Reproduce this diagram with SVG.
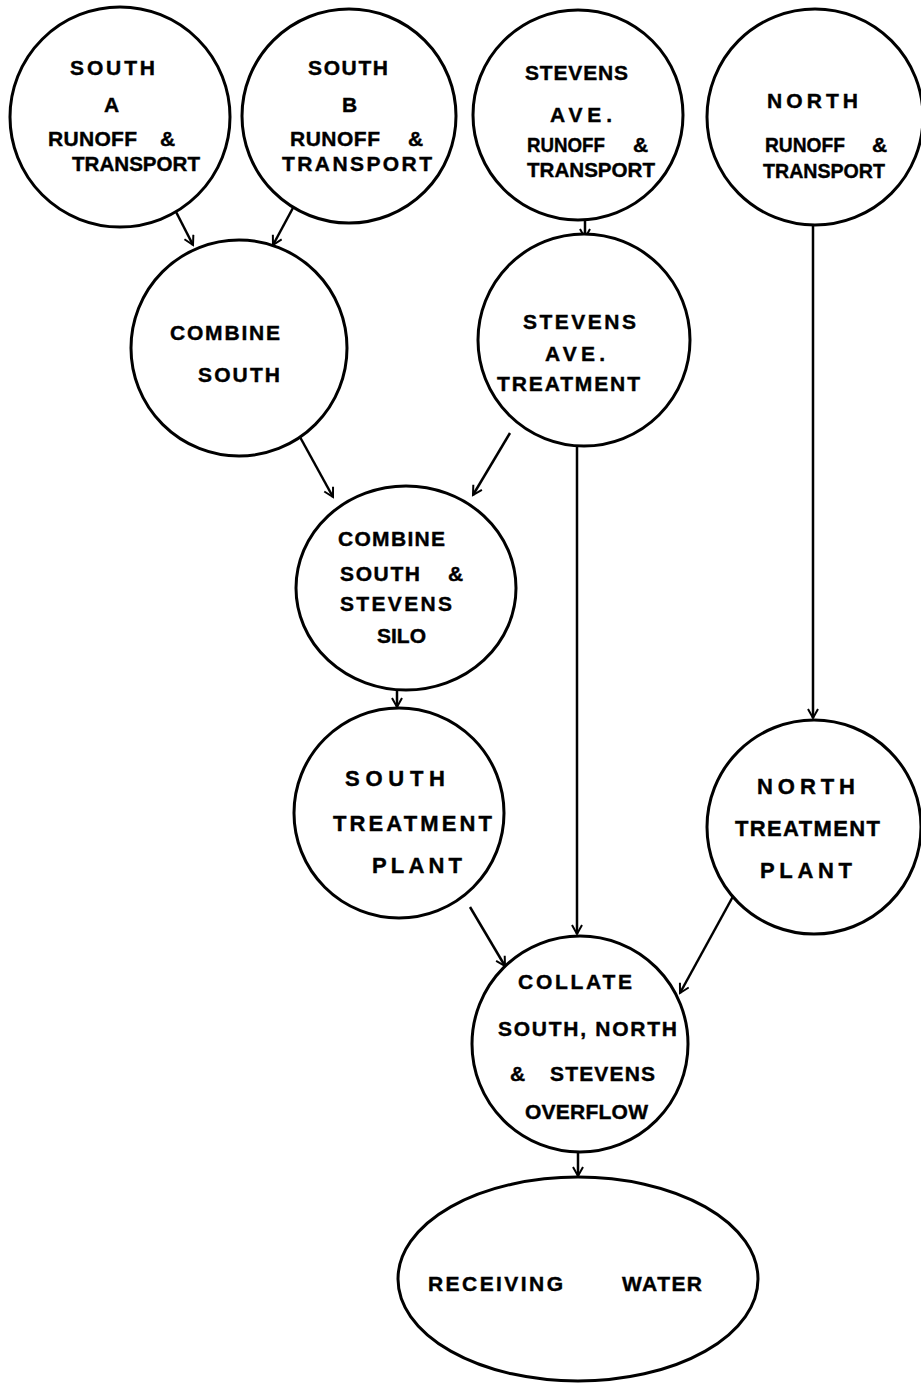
<svg xmlns="http://www.w3.org/2000/svg" width="921" height="1385" viewBox="0 0 921 1385">
<style>
.n{fill:#fff;stroke:#000;stroke-width:3}
.c{fill:none;stroke:#000;stroke-width:2.5;marker-end:url(#ah)}
text{font-family:"Liberation Sans",Arial,sans-serif;font-weight:bold;font-size:21px;fill:#000;stroke:#000;stroke-width:0.4}
.big{font-size:22px}
</style>
<defs>
<marker id="ah" markerUnits="userSpaceOnUse" markerWidth="14" markerHeight="14" refX="11" refY="6" orient="auto">
<path d="M2,1 L11,6 L2,11" fill="none" stroke="#000" stroke-width="2"/>
</marker>
</defs>
<rect width="921" height="1385" fill="#fff"/>
<g id="connectors">
<line class="c" x1="172" y1="204" x2="193" y2="245"/>
<line class="c" x1="294" y1="206" x2="273" y2="245"/>
<line class="c" x1="585" y1="216" x2="585" y2="238"/>
<line class="c" x1="813" y1="205" x2="813" y2="718"/>
<line class="c" x1="300" y1="437" x2="333" y2="497"/>
<line class="c" x1="510" y1="433" x2="473" y2="495"/>
<line class="c" x1="397" y1="688" x2="397" y2="707"/>
<line class="c" x1="577" y1="445" x2="577" y2="934"/>
<line class="c" x1="470" y1="907" x2="505" y2="966"/>
<line class="c" x1="742" y1="880" x2="680" y2="993"/>
<line class="c" x1="578" y1="1153" x2="578" y2="1176"/>
</g>
<g id="southA">
<circle class="n" cx="120" cy="117" r="110"/>
<text x="70" y="75" textLength="85" lengthAdjust="spacing">SOUTH</text>
<text x="104" y="112">A</text>
<text y="146"><tspan x="48" textLength="89" lengthAdjust="spacing">RUNOFF</tspan><tspan x="160">&amp;</tspan></text>
<text x="72" y="171" textLength="128" lengthAdjust="spacingAndGlyphs">TRANSPORT</text>
</g>
<g id="southB">
<circle class="n" cx="349" cy="116" r="107"/>
<text x="308" y="75" textLength="80" lengthAdjust="spacing">SOUTH</text>
<text x="342" y="112">B</text>
<text y="146"><tspan x="290" textLength="90" lengthAdjust="spacing">RUNOFF</tspan><tspan x="408">&amp;</tspan></text>
<text x="282" y="171" textLength="150" lengthAdjust="spacing">TRANSPORT</text>
</g>
<g id="stevensRunoff">
<circle class="n" cx="578" cy="115" r="105"/>
<text x="525" y="80" textLength="103" lengthAdjust="spacing">STEVENS</text>
<text x="550" y="122" textLength="62" lengthAdjust="spacing">AVE.</text>
<text y="152"><tspan x="527" textLength="78" lengthAdjust="spacingAndGlyphs">RUNOFF</tspan><tspan x="633">&amp;</tspan></text>
<text x="527" y="177" textLength="128" lengthAdjust="spacingAndGlyphs">TRANSPORT</text>
</g>
<g id="northRunoff">
<circle class="n" cx="815" cy="117" r="108"/>
<text x="767" y="108" textLength="91" lengthAdjust="spacing">NORTH</text>
<text y="152"><tspan x="765" textLength="80" lengthAdjust="spacingAndGlyphs">RUNOFF</tspan><tspan x="872">&amp;</tspan></text>
<text x="763" y="178" textLength="122" lengthAdjust="spacingAndGlyphs">TRANSPORT</text>
</g>
<g id="combineSouth">
<circle class="n" cx="239" cy="348" r="108"/>
<text x="170" y="340" textLength="110" lengthAdjust="spacing">COMBINE</text>
<text x="198" y="382" textLength="82" lengthAdjust="spacing">SOUTH</text>
</g>
<g id="stevensTreatment">
<circle class="n" cx="584" cy="340" r="106"/>
<text x="523" y="329" textLength="113" lengthAdjust="spacing">STEVENS</text>
<text x="545" y="361" textLength="60" lengthAdjust="spacing">AVE.</text>
<text x="497" y="391" textLength="143" lengthAdjust="spacing">TREATMENT</text>
</g>
<g id="silo">
<ellipse class="n" cx="406" cy="588" rx="110" ry="102"/>
<text x="338" y="546" textLength="107" lengthAdjust="spacing">COMBINE</text>
<text y="581"><tspan x="340" textLength="80" lengthAdjust="spacing">SOUTH</tspan><tspan x="448">&amp;</tspan></text>
<text x="340" y="611" textLength="112" lengthAdjust="spacing">STEVENS</text>
<text x="377" y="643" textLength="49" lengthAdjust="spacingAndGlyphs">SILO</text>
</g>
<g id="southTreatment">
<circle class="n" cx="399" cy="813" r="105"/>
<text class="big" x="345" y="786" textLength="100" lengthAdjust="spacing">SOUTH</text>
<text class="big" x="333" y="831" textLength="159" lengthAdjust="spacing">TREATMENT</text>
<text class="big" x="372" y="873" textLength="90" lengthAdjust="spacing">PLANT</text>
</g>
<g id="northTreatment">
<circle class="n" cx="814" cy="827" r="107"/>
<text class="big" x="757" y="794" textLength="98" lengthAdjust="spacing">NORTH</text>
<text class="big" x="735" y="836" textLength="145" lengthAdjust="spacing">TREATMENT</text>
<text class="big" x="760" y="878" textLength="92" lengthAdjust="spacing">PLANT</text>
</g>
<g id="collate">
<circle class="n" cx="580" cy="1044" r="108"/>
<text x="518" y="989" textLength="114" lengthAdjust="spacing">COLLATE</text>
<text x="498" y="1036" textLength="179" lengthAdjust="spacing">SOUTH, NORTH</text>
<text y="1081"><tspan x="510">&amp;</tspan><tspan x="550" textLength="105" lengthAdjust="spacing">STEVENS</tspan></text>
<text x="525" y="1119" textLength="123" lengthAdjust="spacing">OVERFLOW</text>
</g>
<g id="receivingWater">
<ellipse class="n" cx="578" cy="1279" rx="180" ry="102"/>
<text y="1291"><tspan x="428" textLength="135" lengthAdjust="spacing">RECEIVING</tspan><tspan x="622" textLength="80" lengthAdjust="spacing">WATER</tspan></text>
</g>
</svg>
